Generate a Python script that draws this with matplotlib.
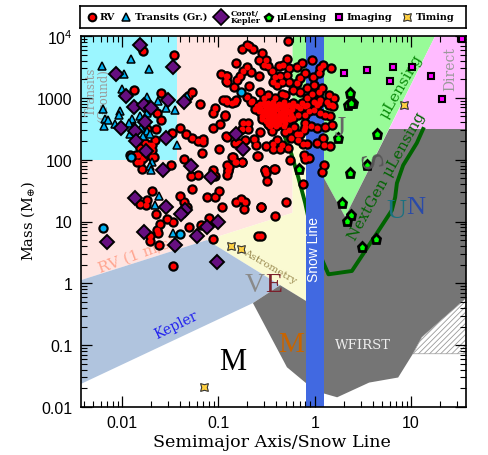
import matplotlib
matplotlib.use("Agg")
import matplotlib.pyplot as plt
import numpy as np

# everything is log10(a / snow line), log10(mass / earth)
rv_a = [-.28,-.75,-.70,-.68,-.64,-.55,-.58,-.51,-.53,-.48,-.44,-.82,-.29,-.33,-.37,-.27,-.29,-.36,-.18,-.13,-.03,.086,.06,.04,.17,
        -.70,-.74,-.66,-.58,-.78,-.81,-.91,-.91,-.84,-.68,-.41,-.43,-.39,-.34,-.27,-.565,-.48,-.70,-.66,-.83,-.91,-.53,-.41,-.34,-.31,
        -.10,-.02,-.15,-.18,-.22,-.08,-.15,-.01,.08,-.08,-.03,.04,-.01,-.10,-.22,.15,.20,.145,.19,.04,
        -.60,-.565,-.52,-.48,-.43,-.37,-.32,-.27,-.22,-.58,-.53,-.485,-.44,-.39,-.34,-.29,-.24,-.18,-.55,-.50,-.45,-.41,-.36,-.305,-.25,
        -.51,-.46,-.42,-.375,-.32,-.27,-.48,-.43,-.375,-.32,-.65,-.82,-.86,-.93,-.91,-.74,-.69,-.755,-.69,-.57,-.44,-.31,-.27,-.21,-.115,-.15,-.18,-.10,-.035,.02,-.105,
        -.13,-.08,-.15,-.06,-.01,.06,.11,.16,-.10,-.17,.02,.06,.13,.18,.11,.18,
        -.25,-.39,-.43,-.34,-.36,-.43,-.28,-.51,-.63,-.61,-.72,-.83,-.17,-.08,-.125,.02,.09,.10,.16,-.115,-.10,-.056,-.26,-.60,-.85,-.82,-.75,-.89,-.90,-.52,-.42,.10,.08,
        -.125,-.30,-.415,-.51,-.49,-.41,-.56,-.56,
        -1.36,-1.17,-.99,-.92,-.855,-.83,-.91,-.90,-.91,-.75,-.59,-1.28,-1.21,-1.06,-1.03,-1.49,-1.79,-1.81,-1.84,-1.92,-1.27,-1.12,-1.03,-.99,-.96,-.82,-.76,-.72,-.73,-.56,-.52,
        -1.69,-1.74,-1.81,-1.75,-1.40,-1.36,-1.33,-1.65,-1.53,-1.47,-1.30,-1.10,-1.09,-1.18,-1.61,-1.64,-1.63,-1.71,-1.71,-1.62,-.585,-1.06,
        -1.78,-1.46,-1.88,-1.59,-1.27,-1.31,-1.19,-1.64,-1.60,-1.65,-1.40,-1.48,-1.34,-1.27,-1.21,-1.16,-1.16,-1.06,-.98,-1.06,-1.03,-.93,-.95,-.92,-.97,-.92,-.92,-.79,-1.72,-1.69,-1.83,-1.67,-1.47,
        -.62,-.57,-.54,-.49,-.45,-.40,-.35,-.30,-.26,-.55,-.51,-.47,-.42,-.38,-.33,-.28,-.23,-.53,-.48,-.44,-.39,-.35,-.30,-.47,-.41,-.36,-.31,-.26,-.46,-.40,
        -1.76,-1.81,-1.69,-1.85,-1.69,-1.74,-1.80,-1.66,-1.78]
rv_m = [3.92,3.79,3.85,3.84,3.79,3.73,3.61,3.61,3.53,3.51,3.43,3.56,3.63,3.53,3.51,3.48,3.37,3.36,3.50,3.56,3.61,3.53,3.48,3.40,3.48,
        3.50,3.44,3.41,3.36,3.36,3.29,3.36,3.26,3.17,3.19,3.34,3.26,3.21,3.26,3.26,3.10,3.05,3.02,2.94,2.94,2.94,2.99,2.99,3.07,3.05,
        3.40,3.34,3.32,3.24,3.13,3.16,3.10,3.21,3.16,2.99,3.07,3.10,2.94,2.86,2.88,3.04,2.99,2.88,2.87,2.91,
        2.86,2.90,2.86,2.91,2.94,2.90,2.94,2.88,2.91,2.78,2.78,2.80,2.84,2.82,2.84,2.80,2.82,2.86,2.70,2.71,2.75,2.73,2.75,2.72,2.73,
        2.625,2.66,2.64,2.67,2.64,2.66,2.57,2.57,2.57,2.55,2.95,2.97,2.91,2.71,2.37,2.59,2.59,2.49,2.50,2.44,2.47,2.44,2.48,2.53,2.48,2.41,2.41,2.53,2.55,2.51,2.60,
        2.91,2.885,2.83,2.78,2.80,2.75,2.72,2.70,2.72,2.72,2.885,2.97,2.94,2.885,2.53,2.56,
        2.355,2.32,2.26,2.24,2.18,2.18,2.19,2.22,2.33,2.24,2.31,2.27,2.32,2.26,2.26,2.27,2.345,2.24,2.225,2.07,2.01,2.03,1.99,2.06,2.05,1.955,1.955,1.885,1.815,1.83,1.85,1.92,1.80,
        1.61,1.32,1.09,1.78,1.65,1.85,1.24,.77,
        2.01,2.10,2.17,2.38,2.05,1.97,1.92,1.84,1.76,1.96,2.06,1.73,1.75,1.83,1.73,1.92,1.85,1.96,1.97,2.08,1.52,1.39,1.39,1.49,1.24,1.32,1.37,1.31,1.20,1.24,1.83,
        1.50,1.35,1.29,1.26,1.42,1.31,1.24,1.12,1.04,1.00,.91,1.05,1.00,.94,.96,.86,.81,.76,.68,.62,.77,.72,
        3.76,3.69,3.12,3.08,3.10,3.03,2.90,2.76,2.64,2.49,2.52,2.43,2.41,2.35,2.30,2.33,2.28,2.52,2.58,2.76,2.83,2.73,2.96,2.96,3.39,3.35,3.27,2.27,2.24,2.16,2.08,2.05,.28,
        2.82,2.83,2.75,2.83,2.88,2.86,2.88,2.86,2.77,2.65,2.74,2.69,2.79,2.71,2.78,2.77,2.68,2.92,2.70,2.71,2.66,2.70,2.68,2.61,2.60,2.62,2.59,2.65,2.54,2.54,
        2.27,2.19,2.24,2.08,2.05,2.49,2.12,2.32,2.02]

tr_a = [-2.21,-1.91,-1.72,-1.98,-2.0,-2.2,-2.02,-2.03,-2.18,-2.14,-2.19,-2.07,-1.74,-1.63,-1.54,-1.45,-1.33,-1.43,-1.81,-1.9,-1.93,-1.92,-1.87,-1.80,-1.74,-1.71,-1.78,-1.69,-1.71,-1.70,-1.62,-1.66,-1.47,-1.74]
tr_m = [3.51,3.62,3.46,3.39,3.15,2.82,2.78,2.72,2.65,2.64,2.55,2.58,3.01,2.95,2.84,2.80,3.03,2.23,2.70,2.65,2.59,2.42,2.54,2.51,2.46,2.41,2.38,1.97,1.89,1.84,1.42,1.27,.81,2.76]
# transits drawn as filled circles
trc_a = [-2.20,-1.40,-.76,-1.91]
trc_m = [.89,.80,3.10,2.05]

kep_a = [-1.81,-2.06,-1.47,-1.96,-1.88,-1.77,-1.70,-1.52,-1.36,-1.76,-2.01,-1.86,-1.54,-1.85,-1.75,-1.28,-1.57,-1.08,-.82,-.74,-1.86,-1.54,-1.35,-1.39,-1.0,-1.12,-1.22,-1.45,-1.77,-2.16,-1.01]
kep_m = [3.85,3.38,3.50,3.03,2.85,2.89,2.83,2.97,2.94,2.61,2.51,2.46,2.35,2.30,2.14,1.90,1.83,1.72,2.42,2.17,1.38,1.23,1.19,1.12,.99,.91,.77,.62,.83,.67,.345]

ml_a = [.37,.35,.40,.38,.24,.65,.54,.37,-.16,.28,.38,.33,.64,.49]
ml_m = [3.08,2.89,2.92,2.91,2.35,2.42,1.92,1.79,1.85,1.30,1.11,1.01,.72,.58]

img_a = [.30,.54,.81,1.01,.78,1.21,1.32,1.527]
img_m = [3.40,3.45,3.50,3.50,3.28,3.35,2.98,3.95]

tim_a = [.93,-.869,-.766,-1.153]
tim_m = [2.89,.605,.56,-1.675]

# detection regions
rv_reg_a = [-2.43,-.23,-.23,-1.118,-2.43]
rv_reg_m = [4,4,1.14,.70,.05]
kepler_reg_a = [-2.43,-1.118,-.358,-.641,-2.43]
kepler_reg_m = [.05,.70,-.03,-.319,-1.63]
astro_reg_a = [-1.118,-.23,-.23,-.088,-.088]
astro_reg_m = [.70,1.14,2.4,2.4,-.287]
ml_reg_a = [-.23,1.25,.316,.09,-.088,-.23]
ml_reg_m = [4,4,1.075,1.72,2.4,2.4]
direct_reg_a = [1.25,.773,1.57,1.57]
direct_reg_m = [4,2.496,2.496,4]
wfirst_a = [-.641,-.358,-.088,.09,.316,.773,1.57,1.57,1.112,1.019,.866,.565,.233,.088,-.088,-.288]
wfirst_m = [-.319,-.03,-.287,1.72,1.075,2.496,2.496,-.243,-.87,-1.139,-1.523,-1.605,-1.843,-1.778,-1.616,-1.357]
hatch_a = [1.57,1.112,1.019,1.57]
hatch_m = [-.243,-.87,-1.139,-1.139]
nextgen_a = [1.125,1.06,.918,.853,.835,.80,.645,.386,.143,.088,-.026,-.099,-.171,-.254,-.306]
nextgen_m = [2.496,2.27,1.91,1.62,1.39,1.18,.81,.20,.146,.34,.78,1.30,1.72,2.155,2.35]

xtick_vals = [0.01,0.1,1,10]
xtick_labels = ["0.01","0.1","1","10"]
ytick_vals = [0.01,0.1,1,10,100,1000,10000]
ytick_labels = ["0.01","0.1","1","10","100","1000","10$^4$"]

def lin(v):
    return 10**np.array(v)

def dots(a, b, color, z, big=7.5, small=4.3):
    # black pass first so that crowded points merge into one red blob
    axx = plt.gca()
    axx.plot(a, b, 'o', ms=big, mfc='k', mec='k', mew=0, ls='none', zorder=z)
    axx.plot(a, b, 'o', ms=small, mfc=color, mec=color, mew=0, ls='none', zorder=z+0.01)

plt.rcParams['mathtext.default'] = 'regular'
W, H = 488, 456
fig = plt.figure(figsize=(W/100, H/100), dpi=100)
ax = fig.add_axes([81/W, 1-408/H, 385/W, 371/H])
ax.set_xscale('log')
ax.set_yscale('log')
xlo, xhi = 10**-2.425, 10**1.57
ax.set_xlim(xlo, xhi)
ax.set_ylim(0.01, 1e4)

ax.fill(lin(rv_reg_a), lin(rv_reg_m), color='#FFE4E1', lw=0, zorder=1)
ax.fill([xlo,0.0375,0.0375,xlo], [100,100,1e4,1e4], color='#9BF6FF', lw=0, zorder=1.1)
ax.fill(lin(astro_reg_a), lin(astro_reg_m), color='#FAFAD2', lw=0, zorder=1)
ax.fill(lin(kepler_reg_a), lin(kepler_reg_m), color='#B0C4DE', lw=0, zorder=1.2)
ax.fill(lin(ml_reg_a), lin(ml_reg_m), color='#98FB98', lw=0, zorder=1)
ax.fill(lin(direct_reg_a), lin(direct_reg_m), color='#FFBBFF', lw=0, zorder=1)
ax.fill(lin(wfirst_a), lin(wfirst_m), color='#757575', lw=0, zorder=1.3)
plt.rcParams['hatch.color'] = '#999999'
plt.rcParams['hatch.linewidth'] = 0.6
ax.fill(lin(hatch_a), lin(hatch_m), facecolor='white', edgecolor='#999999', hatch='//////', lw=0.5, zorder=1.3)

ax.plot(lin(nextgen_a), lin(nextgen_m), color='#006400', lw=2.8, zorder=2)
ax.axvspan(10**-.088, 10**.092, color='#4169E1', lw=0, zorder=2.5)

serif = 'DejaVu Serif'
def lab(px, py, s, color, size, rot=0, fam=serif, weight='normal', z=3):
    ax.text((px-81)/385, (408-py)/371, s, transform=ax.transAxes, color=color, fontsize=size,
            rotation=rot, ha='center', va='center', family=fam, weight=weight, zorder=z,
            rotation_mode='anchor')

lab(91, 92, "Transits", '#9a9a9a', 8.5, 90)
lab(104, 96, "(Ground)", '#9a9a9a', 8.5, 90)
lab(137, 255, "RV (1 m/s)", '#FFA590', 11, 20)
lab(270, 267, "Astrometry", '#9a8a50', 7.5, -30)
lab(176, 325, "Kepler", '#2222ee', 10, 26)
lab(401, 87, "μLensing", '#0a8a0a', 11, 60)
lab(387, 177, "NextGen μLensing", '#006400', 11, 61)
lab(450, 69, "Direct", '#999999', 10, 90)
lab(363, 346, "WFIRST", '#eeeeee', 9.5)
lab(314.5, 250, "Snow Line", 'white', 10, 90, fam='Liberation Sans', z=3)

dots(lin(rv_a), lin(rv_m), '#FF0000', 5)
ax.plot(lin(tr_a), lin(tr_m), '^', ms=6, mfc='#00AEEF', mec='k', mew=1.1, ls='none', zorder=5.2)
dots(lin(trc_a), lin(trc_m), '#00AEEF', 5.2)
ax.plot(lin(kep_a), lin(kep_m), 'D', ms=6.8, mfc='#660F80', mec='k', mew=1.4, ls='none', zorder=5.4)
ax.plot(lin(ml_a), lin(ml_m), 'p', ms=6.5, mfc='#00FF00', mec='k', mew=2, ls='none', zorder=5.5)
ax.plot(lin(img_a), lin(img_m), 's', ms=5, mfc='#FF00FF', mec='k', mew=1.5, ls='none', zorder=5.5)
ax.plot(lin(tim_a), lin(tim_m), marker=(4,1,45), ms=8, mfc='#FFD040', mec='#333333', mew=0.8, ls='none', zorder=5.6)

lib = 'Liberation Serif'
lab(233, 363, "M", 'k', 22, fam=lib, z=6)
lab(291, 345, "M", '#C86400', 21, fam=lib, z=6)
lab(255, 286, "V", '#8a8a8a', 20, fam=lib, z=6)
lab(274, 286, "E", '#7a1f2b', 20, fam=lib, z=6)
lab(340, 129, "J", '#666666', 21, fam=lib, z=6)
lab(367, 163, "S", '#555555', 23, -80, fam=lib, z=6)
lab(396.5, 212, "U", '#1a7080', 20, fam=lib, z=6)
lab(415.5, 208, "N", '#2a4aa8', 19, fam=lib, z=6)

ax.set_xticks(xtick_vals)
ax.set_xticklabels(xtick_labels, family='Liberation Sans', fontsize=11.5)
ax.set_yticks(ytick_vals)
ax.set_yticklabels(ytick_labels, family='Liberation Sans', fontsize=11.5)
ax.xaxis.set_minor_locator(matplotlib.ticker.LogLocator(10, subs=range(2,10), numticks=12))
ax.yaxis.set_minor_locator(matplotlib.ticker.LogLocator(10, subs=range(2,10), numticks=12))
ax.xaxis.set_minor_formatter(matplotlib.ticker.NullFormatter())
ax.yaxis.set_minor_formatter(matplotlib.ticker.NullFormatter())
ax.tick_params(which='major', direction='in', top=True, right=True, length=8, width=0.9, pad=6)
ax.tick_params(which='minor', direction='in', top=True, right=True, length=4, width=0.8)
for s in ax.spines.values():
    s.set_linewidth(1.2)
    s.set_zorder(8)
ax.set_axisbelow(False)

fig.text(272/W, 1-443/H, "Semimajor Axis/Snow Line", ha='center', va='center', family=serif, fontsize=12.6)
fig.text(28/W, 1-221/H, r"Mass ($M_{\oplus}$)", ha='center', va='center', rotation=90, family=serif, fontsize=10.5)

# legend strip
leg = fig.add_axes([80/W, 1-29/H, 386/W, 22/H])
leg.set_xlim(80, 466)
leg.set_ylim(29, 7)
leg.set_xticks([])
leg.set_yticks([])
for s in leg.spines.values():
    s.set_linewidth(1.2)
kw = dict(ls='none', clip_on=False)
leg.plot([92],[18],'o', ms=7, mfc='k', mew=0, **kw)
leg.plot([92],[18],'o', ms=4, mfc='#FF0000', mew=0, **kw)
leg.plot([126],[17.5],'^', ms=6, mfc='#00AEEF', mec='k', mew=1.1, **kw)
leg.plot([221],[18],'D', ms=8, mfc='#660F80', mec='k', mew=1.2, **kw)
leg.plot([269],[18.5],'p', ms=5.5, mfc='#00FF00', mec='k', mew=1.7, **kw)
leg.plot([339],[18],'s', ms=5, mfc='#FF00FF', mec='k', mew=1.5, **kw)
leg.plot([407],[18],marker=(4,1,45), ms=8, mfc='#FFD040', mec='#333333', mew=0.8, **kw)
for x, s, fs in [(100,"RV",7),(135,"Transits (Gr.)",7),(231,"Corot/\nKepler",5.8),(277,"μLensing",7),(347,"Imaging",7),(416,"Timing",7)]:
    leg.text(x, 17.5, s, ha='left', va='center', family=serif, weight='bold', fontsize=fs, linespacing=0.9)

fig.savefig("out.png", dpi=100)
